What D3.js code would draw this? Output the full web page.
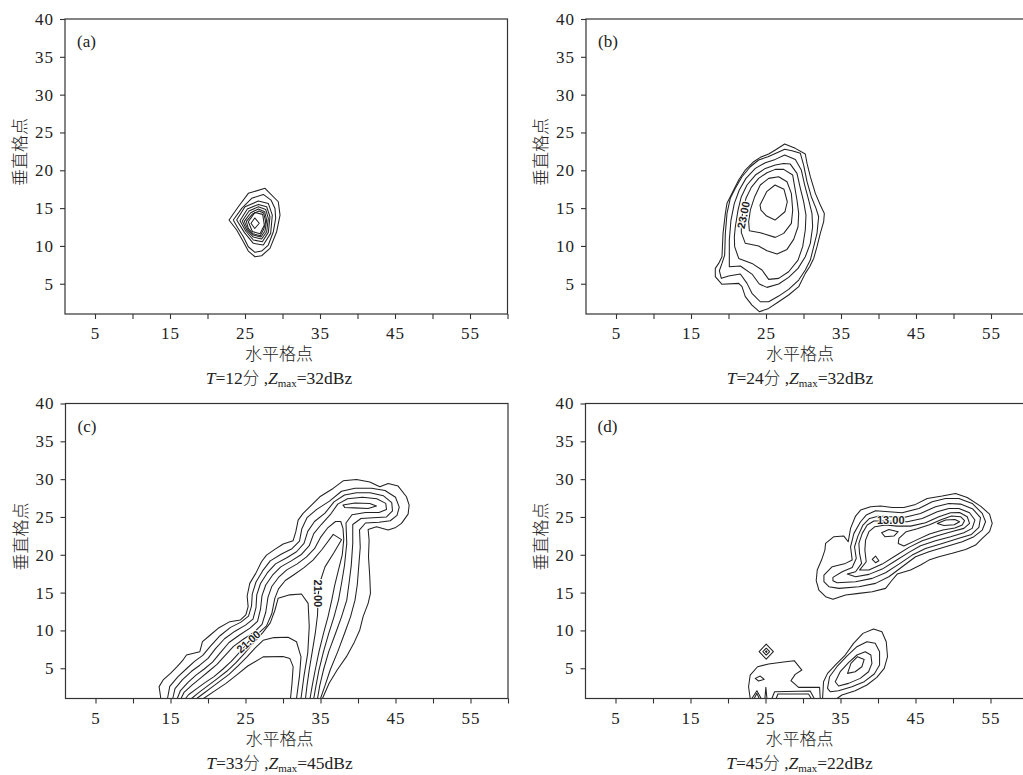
<!DOCTYPE html>
<meta charset="utf-8">
<style>
body { margin: 0; background: #fff; }
svg text { fill: #222; }
.axis .tick text { font-family: "Liberation Serif", "Times New Roman", serif; font-size: 17px; letter-spacing: 1px; fill: #222; }
.axis .tick line { stroke: #333; stroke-width: 1.1; }
.frame { fill: none; stroke: #333; stroke-width: 1.2; }
.cjk { font-family: "Noto Sans CJK SC", sans-serif; font-size: 17px; font-weight: 300; }
.cap { font-family: "Liberation Serif", "Times New Roman", serif; font-size: 17.5px; }
.tag { font-family: "Liberation Serif", "Times New Roman", serif; font-size: 17px; }
.clab { font-family: "Liberation Sans", Arial, sans-serif; font-weight: bold; font-size: 11px;
        paint-order: stroke; stroke: #fff; stroke-width: 2px; }
.contour { fill: none; stroke: #222; stroke-width: 1.05; stroke-linejoin: round; }
</style>
<body>
<div id="chart"></div>
<script src="https://cdnjs.cloudflare.com/ajax/libs/d3/7.8.5/d3.min.js"></script>
<script>

// axis values
var xTicks = [5, 10, 15, 20, 25, 30, 35, 40, 45, 50, 55, 60];
var xLabels = [5, 15, 25, 35, 45, 55];
var yTicks = [5, 10, 15, 20, 25, 30, 35, 40];

// panel captions
var panelTags = ["(a)", "(b)", "(c)", "(d)"];
var times = [12, 24, 33, 45];
var zmax = [32, 32, 45, 22];

// contours, points are [horizontal grid point, vertical grid point]
// (a) T=12 closed rings
var ringsA = [
  [[22.87,13.42],[24.11,15.18],[25.44,16.95],[27.67,17.61],[29.44,15.84],[29.67,14.08],[29.22,11.88],[28.33,9.67],[27.22,8.70],[26.33,8.57],[25.44,9.32],[24.78,10.56],[23.89,12.10]],
  [[23.44,13.42],[24.56,14.96],[25.89,16.29],[27.44,16.81],[28.47,16.06],[29.0,14.96],[29.09,13.64],[28.78,11.88],[28.11,10.12],[27.22,9.32],[26.33,9.15],[25.44,9.89],[24.78,11.22],[24.02,12.41]],
  [[23.89,13.42],[25.0,15.18],[26.78,15.93],[28.11,15.62],[28.64,14.08],[28.42,11.66],[27.44,10.12],[26.11,10.34],[24.91,11.79]],
  [[24.33,13.33],[25.31,14.87],[26.78,15.49],[27.89,15.18],[28.33,13.86],[28.11,11.79],[27.31,10.56],[26.11,10.78],[25.09,11.97]],
  [[24.64,13.29],[25.53,14.61],[26.78,15.18],[27.76,14.83],[28.11,13.64],[27.89,11.88],[27.22,10.91],[26.11,11.17],[25.22,12.1]],
  [[24.91,13.24],[25.76,14.39],[26.78,14.87],[27.62,14.52],[27.89,13.42],[27.67,11.97],[27.13,11.17],[26.11,11.44],[25.36,12.19]],
  [[25.18,13.24],[25.98,14.21],[26.87,14.61],[27.49,14.35],[27.76,13.2],[27.49,12.19],[27.04,11.35],[26.07,11.61],[25.44,12.32]],
  [[25.44,13.2],[26.33,14.43],[27.36,14.17],[27.58,12.76],[27.0,11.6],[25.98,11.9]],
  [[25.8,13.0],[26.3,13.7],[26.9,13.0],[26.3,12.3]]
];

// (b) T=24 closed rings
var ringsB = [
  [[27.49,23.47],[28.91,22.90],[30.24,22.15],[30.47,20.91],[30.91,19.15],[31.58,16.95],[32.24,15.41],[32.78,14.30],[32.69,13.20],[32.24,11.66],[31.8,9.9],[31.36,8.35],[30.82,7.25],[30.24,6.37],[29.36,4.61],[28.02,3.51],[26.69,2.62],[25.36,1.74],[24.11,1.30],[23.13,2.18],[22.24,3.29],[21.8,4.61],[21.36,5.05],[19.13,4.92],[18.24,5.93],[18.24,7.03],[18.69,7.69],[19.13,8.57],[19.27,11.66],[19.58,14.30],[19.8,15.63],[20.47,16.95],[21.36,18.71],[22.24,20.03],[23.36,21.13],[24.24,21.71],[25.36,22.15],[26.24,22.68]],
  [[19.04,5.71],[20.02,6.02],[21.58,6.28],[22.47,5.05],[23.13,3.73],[24.24,2.62],[25.36,2.62],[26.69,3.37],[28.02,4.25],[29.36,5.49],[30.24,6.81],[30.91,8.13],[31.36,9.9],[31.8,11.66],[32.02,13.86],[31.67,14.96],[31.04,16.51],[30.47,18.49],[30.02,20.69],[29.58,22.24],[28.47,22.59],[27.49,22.77],[26.47,22.33],[25.27,21.8],[24.02,21.36],[22.91,20.47],[21.8,19.15],[20.91,17.61],[20.24,16.29],[19.8,14.3],[19.58,11.66],[19.49,8.79],[19.13,7.69],[18.78,6.72]],
  [[20.11,7.25],[21.58,7.34],[23.13,6.28],[24.11,4.96],[25.13,4.52],[26.69,4.96],[28.02,5.84],[29.27,7.03],[30.24,8.57],[30.91,10.34],[31.22,12.54],[31.13,14.3],[30.69,16.07],[30.16,18.05],[29.71,20.03],[28.91,21.44],[27.49,22.02],[26.24,21.44],[24.91,21.0],[23.58,20.25],[22.33,18.93],[21.44,17.39],[20.78,15.63],[20.33,13.42],[20.11,10.78],[20.11,8.57]],
  [[20.82,9.9],[21.36,8.35],[23.13,7.69],[24.47,6.81],[25.36,5.58],[26.69,5.71],[28.02,6.59],[29.27,8.13],[29.89,9.9],[30.24,12.1],[30.33,14.08],[30.02,15.85],[29.58,17.61],[29.13,19.59],[28.24,20.82],[27.36,20.91],[26.24,20.69],[24.91,20.25],[23.58,19.37],[22.47,18.05],[21.71,16.51],[21.27,14.74],[20.91,12.54],[20.78,11.22]],
  [[21.71,11.75],[22.24,10.34],[24.02,9.98],[25.13,9.37],[26.47,8.93],[27.8,9.54],[28.69,10.87],[29.27,12.54],[29.36,14.3],[29.13,16.07],[28.82,17.83],[28.56,19.37],[27.36,20.12],[26.24,20.12],[25.13,19.68],[24.02,18.93],[23.04,17.74],[22.33,16.29],[21.89,14.52],[21.71,12.98]],
  [[22.78,12.01],[24.24,11.75],[26.24,11.13],[27.36,11.66],[28.38,12.98],[28.56,14.74],[28.38,16.95],[27.8,18.49],[26.69,19.15],[25.36,18.93],[24.24,18.05],[23.49,16.51],[22.91,14.74],[22.69,13.2]],
  [[24.2,15.4],[25.09,17.17],[26.2,18.05],[27.4,17.48],[27.84,15.84],[27.53,14.52],[26.2,13.42],[25.09,13.95],[24.33,14.74]]
];

// (c) T=33 lines that open onto the bottom edge, plus one closed ring
var linesC = [
  [[13.71,1],[13.48,2.57],[14.02,3.45],[15.0,4.33],[15.88,5.21],[16.6,6.0],[17.13,6.75],[18.91,7.19],[19.26,8.51],[20.15,9.26],[21.35,10.28],[22.91,11.16],[24.33,11.38],[25.04,12.04],[25.35,13.14],[25.22,14.55],[25.57,16.22],[26.37,17.54],[27.13,19.08],[27.8,19.96],[28.91,20.71],[30.02,21.42],[31.35,21.86],[31.71,23.05],[32.02,24.59],[32.68,25.47],[33.8,26.57],[34.91,27.67],[36.68,28.77],[38.02,29.78],[39.8,29.96],[41.57,29.61],[42.91,28.99],[44.02,29.43],[45.35,29.08],[46.46,27.67],[46.82,26.57],[46.68,25.38],[45.8,24.15],[45.04,23.62],[44.02,23.27],[42.46,23.71],[41.35,23.35],[41.48,21.94],[41.4,19.74],[41.57,17.1],[41.66,14.9],[41.35,13.58],[40.68,11.82],[40.24,10.06],[39.44,8.29],[38.46,6.53],[37.22,4.77],[36.15,3.01],[35.26,1]],
  [[14.6,1],[14.9,2.6],[16.0,3.9],[17.2,5.0],[18.2,5.9],[19.3,6.7],[20.3,7.9],[21.6,9.3],[23.0,10.4],[24.4,11.1],[25.4,11.9],[25.8,13.2],[25.9,14.8],[26.4,16.4],[27.3,17.9],[28.3,19.2],[29.8,20.1],[31.2,20.8],[32.2,21.8],[32.5,23.4],[33.2,24.9],[34.5,26.0],[36.2,27.1],[37.8,28.4],[39.6,28.8],[41.8,28.8],[43.6,28.5],[45.0,27.6],[45.5,26.3],[45.2,25.2],[44.3,24.5],[42.8,24.3],[41.0,24.2],[40.2,23.3],[40.3,21.0],[40.1,18.5],[39.9,16.0],[39.6,14.0],[39.0,11.8],[38.2,9.6],[37.3,7.2],[36.3,4.8],[35.6,2.7],[35.0,1]],
  [[15.3,1],[15.6,2.3],[16.6,3.5],[17.8,4.6],[18.9,5.4],[20.0,6.3],[21.0,7.6],[22.2,8.9],[23.6,9.9],[25.0,10.7],[26.0,11.5],[26.4,13.0],[26.5,14.7],[27.0,16.2],[27.9,17.6],[29.0,18.8],[30.5,19.6],[31.8,20.4],[32.8,21.5],[33.3,23.1],[34.2,24.4],[35.6,25.5],[36.8,27.0],[38.2,27.9],[39.8,28.2],[41.6,28.2],[43.4,27.8],[44.5,26.9],[44.6,25.8],[43.8,25.0],[42.0,24.9],[40.4,24.8],[39.3,24.0],[39.3,21.5],[39.1,18.6],[38.8,16.2],[38.5,14.0],[37.8,11.8],[37.0,9.6],[36.1,7.2],[35.4,4.8],[34.9,2.7],[34.6,1]],
  [[15.9,1],[16.3,2.0],[17.3,3.1],[18.4,4.1],[19.5,4.9],[20.6,5.8],[21.6,7.0],[22.8,8.4],[24.2,9.4],[25.6,10.3],[26.6,11.2],[27.0,12.8],[27.2,14.6],[27.7,16.0],[28.6,17.3],[29.7,18.4],[31.1,19.2],[32.4,20.0],[33.5,21.2],[34.1,22.8],[35.1,24.0],[36.3,25.3],[37.3,26.7],[38.6,27.4],[40.6,27.6],[42.5,27.4],[43.7,26.8],[43.8,26.0],[42.8,25.6],[41.0,25.6],[39.2,25.3],[38.4,24.2],[38.5,21.5],[38.2,18.6],[37.8,16.2],[37.4,14.0],[36.8,11.8],[36.1,9.6],[35.4,7.2],[34.8,4.8],[34.4,2.7],[34.1,1]],
  [[16.4,1],[16.8,1.8],[17.9,2.8],[19.0,3.7],[20.1,4.6],[21.2,5.5],[22.2,6.6],[23.4,7.9],[24.8,8.9],[26.2,9.8],[27.2,10.8],[27.7,12.4],[28.0,14.4],[28.5,15.8],[29.4,17.0],[30.5,18.0],[31.9,18.8],[33.1,19.7],[34.2,20.8],[35.0,22.3],[36.0,23.6],[37.0,24.4],[37.7,24.4],[38.0,23.5],[38.1,22.0],[37.9,20.0],[37.4,18.0],[36.9,16.0],[36.5,14.0],[36.0,11.8],[35.4,9.6],[34.8,7.2],[34.3,4.8],[33.9,2.7],[33.6,1]],
  [[17.0,1],[17.4,1.5],[18.5,2.3],[19.6,3.1],[20.8,3.9],[22.0,4.9],[23.1,5.9],[24.3,7.2],[25.4,8.5],[26.6,9.5],[27.8,10.6],[28.5,12.2],[28.9,14.2],[29.4,15.5],[30.3,16.6],[31.5,17.4],[32.8,18.3],[34.0,19.3],[35.2,20.7],[36.7,22.7],[37.8,22.0],[36.8,20.3],[35.6,18.4],[35.0,16.6],[34.7,14.8],[34.6,12.0],[34.3,9.6],[33.9,7.2],[33.5,4.8],[33.2,2.7],[33.0,1]],
  [[17.8,1],[18.8,1.8],[20.0,2.7],[21.2,3.6],[22.5,4.6],[23.7,5.7],[24.9,7.0],[26.1,8.4],[27.3,9.7],[28.3,11.0],[28.9,12.6],[29.35,14.24],[30.9,14.7],[32.46,14.81],[33.35,13.58],[33.5,10.5],[33.3,7.0],[32.8,4.0],[32.4,1]],
  [[18.5,1],[19.3,1.6],[20.4,2.4],[21.6,3.3],[22.8,4.2],[24.0,5.3],[25.2,6.5],[26.3,7.7],[27.35,8.7],[28.8,9.05],[30.68,9.09],[31.8,8.5],[32.4,6.5],[32.2,4.0],[31.8,1]],
  [[19.4,1],[20.9,2.0],[22.4,3.0],[23.8,4.1],[25.3,5.3],[27.35,6.5],[30.0,6.55],[30.91,6.3],[31.35,5.21],[31.2,3.0],[31.0,1]]
];
var ringsC = [
  [[38.0,26.57],[39.6,26.85],[41.57,26.79],[42.46,26.44],[41.35,26.13],[39.5,26.2],[38.24,26.26]]
];

// (d) T=45 closed rings and lines on the bottom edge
var ringsD = [
  [[33.01,21.5],[34.12,22.39],[35.45,22.47],[36.03,21.72],[36.34,23.49],[37.01,25.12],[37.68,25.91],[39.01,26.35],[40.34,26.44],[41.9,26.26],[43.45,26.26],[45.01,26.66],[46.56,27.45],[48.56,27.76],[50.34,28.11],[51.9,27.58],[53.67,26.44],[54.87,25.38],[55.23,24.15],[54.87,23.05],[53.9,22.17],[53.01,21.29],[51.68,20.71],[49.9,20.19],[48.12,19.74],[46.79,19.3],[45.68,18.64],[44.34,17.98],[42.56,17.45],[41.81,16.57],[41.01,15.56],[39.23,15.12],[37.45,14.9],[35.68,14.68],[33.99,14.11],[33.01,14.46],[32.12,15.34],[31.76,16.57],[31.9,17.98],[32.47,19.3],[32.92,20.62]],
  [[32.79,17.32],[33.9,18.42],[35.67,18.86],[36.56,19.3],[36.34,21.06],[36.79,22.83],[37.67,24.37],[38.43,25.25],[39.67,25.82],[41.45,25.69],[43.23,25.56],[45.45,26.13],[47.23,27.01],[49.01,27.45],[50.79,27.45],[52.56,26.79],[53.9,25.47],[54.34,24.37],[53.9,23.27],[52.79,22.39],[51.23,21.72],[49.01,21.06],[46.79,20.4],[45.01,19.74],[43.23,18.42],[41.45,17.1],[39.67,16.22],[37.45,15.78],[34.79,15.56],[33.45,15.78],[32.79,16.44]],
  [[33.99,17.01],[35.23,17.76],[36.56,18.33],[37.1,19.52],[36.87,21.06],[37.32,22.47],[37.99,23.93],[38.87,24.81],[40.12,25.12],[41.67,25.03],[43.45,24.94],[45.67,25.47],[47.67,26.35],[49.45,26.79],[51.01,26.7],[52.65,26.04],[53.67,24.9],[53.45,23.62],[52.47,22.69],[50.79,22.17],[48.56,21.5],[46.34,20.84],[44.56,19.96],[42.79,18.77],[41.01,17.63],[39.23,16.88],[37.01,16.44],[34.56,16.31],[33.99,16.57]],
  [[35.9,17.45],[37.01,17.76],[37.81,18.86],[37.54,20.18],[37.45,21.5],[37.9,22.83],[38.56,23.93],[39.45,24.46],[40.79,24.5],[42.34,24.37],[43.9,24.37],[45.9,24.81],[47.9,25.69],[49.45,26.13],[50.79,26.13],[52.21,25.56],[52.92,24.59],[52.56,23.49],[51.45,22.91],[49.68,22.39],[47.67,21.86],[45.67,21.2],[44.12,20.32],[42.34,19.21],[40.56,18.11],[38.79,17.41],[37.01,17.1]],
  [[37.54,17.98],[38.43,19.08],[38.25,20.62],[38.34,21.94],[38.79,23.05],[39.59,23.71],[41.01,23.93],[42.56,23.79],[44.34,23.79],[46.34,24.23],[48.12,25.03],[49.68,25.56],[50.88,25.6],[51.9,25.03],[52.21,24.15],[51.45,23.49],[49.9,23.09],[47.9,22.52],[45.9,21.86],[44.12,20.98],[42.34,19.88],[40.56,18.77],[38.79,17.98]],
  [[42.79,22.17],[43.76,23.05],[45.23,23.44],[46.87,23.97],[48.48,24.67],[49.81,25.12],[51.01,25.03],[51.54,24.5],[51.23,23.93],[50.25,23.53],[48.65,23.27],[46.87,22.74],[45.1,21.94],[43.45,21.15],[42.7,21.5]],
  [[47.9,24.15],[49.01,24.59],[50.25,24.67],[50.88,24.37],[50.16,23.97],[48.79,23.88]],
  [[40.48,22.91],[41.45,23.35],[42.7,23.05],[42.12,22.47],[40.92,22.39]],
  [[39.23,19.39],[39.67,19.83],[40.12,19.21],[39.67,18.95]],
  [[33.27,2.34],[33.54,3.88],[34.52,5.2],[35.85,6.61],[37.19,7.85],[38.52,8.51],[39.63,8.29],[40.21,7.19],[40.21,5.42],[39.5,4.24],[38.16,3.22],[36.52,2.56],[34.74,2.03],[33.63,1.9]],
  [[34.3,3.22],[34.96,4.54],[36.07,5.73],[37.19,6.75],[38.3,7.19],[39.05,6.75],[39.19,5.65],[38.74,4.54],[37.63,3.66],[36.07,3.0],[34.74,2.65]],
  [[35.94,4.32],[36.39,5.65],[37.27,6.53],[38.16,6.17],[37.85,5.2],[36.96,4.54]],
  [[23.63,3.66],[24.3,3.97],[24.83,3.53],[24.07,3.31]],
  [[25.1,8.2],[26.05,7.2],[25.1,6.2],[24.15,7.2]],
  [[25.1,7.65],[25.55,7.2],[25.1,6.75],[24.65,7.2]],
  [[25.1,7.3],[25.2,7.2],[25.1,7.1],[25.0,7.2]]
];
var linesD = [
  [[32.61,1],[32.74,3.22],[33.27,4.32],[34.3,5.42],[35.63,6.75],[36.74,8.29],[37.99,9.61],[39.41,10.18],[40.52,9.83],[41.1,8.51],[41.27,6.53],[40.83,4.98],[39.85,3.8],[38.52,2.78],[36.96,2.03],[35.19,1.46],[34.52,1]],
  [[22.96,1],[22.74,2.56],[22.96,4.1],[23.94,5.2],[25.41,5.56],[27.41,5.82],[28.83,6.0],[29.85,4.76],[28.96,4.19],[28.39,3.35],[29.41,2.47],[32.21,2.47],[32.3,1]],
  [[23.19,1],[23.85,2.03],[24.43,1]],
  [[23.5,1],[23.85,1.68],[24.16,1]],
  [[24.92,1],[25.05,2.47],[25.19,1]],
  [[25.85,1],[26.21,1.9],[30.96,1.99],[31.5,1]],
  [[26.43,1],[26.65,1.59],[30.74,1.59],[31.1,1]]
];

// contour labels: panel index, text, position, angle
var contourLabels = [
  {panel: 1, text: "23.00", at: [22.0, 14.1], angle: -78},
  {panel: 2, text: "21.00", at: [25.4, 8.5], angle: -42},
  {panel: 2, text: "21.00", at: [34.7, 14.9], angle: 90},
  {panel: 3, text: "13.00", at: [41.7, 24.55], angle: 0}
];

var panelRings = [ringsA, ringsB, ringsC, ringsD];
var panelLines = [[], [], linesC, linesD];

// layout
var width = 1023, height = 775;
var W = 442.5, H = 295;
var origins = [[65, 19], [586, 19], [65.5, 403.5], [585.5, 403.5]];

var svg = d3.select("#chart").append("svg")
    .attr("width", width).attr("height", height);

var x = d3.scaleLinear().domain([1, 60]).range([0, W]);
var y = d3.scaleLinear().domain([1, 40]).range([H, 0]);

var line = d3.line().x(function(d) { return x(d[0]); }).y(function(d) { return y(d[1]); });
var ring = d3.line().x(function(d) { return x(d[0]); }).y(function(d) { return y(d[1]); })
    .curve(d3.curveLinearClosed);

origins.forEach(function(o, i) {
  var g = svg.append("g").attr("transform", "translate(" + o[0] + "," + o[1] + ")");

  g.append("clipPath").attr("id", "clip" + i)
    .append("rect").attr("width", W).attr("height", H);

  var plot = g.append("g").attr("clip-path", "url(#clip" + i + ")");

  plot.selectAll("path.ring")
    .data(panelRings[i])
    .enter().append("path")
    .attr("class", "contour ring")
    .attr("d", ring);

  plot.selectAll("path.open")
    .data(panelLines[i])
    .enter().append("path")
    .attr("class", "contour open")
    .attr("d", line);

  contourLabels.filter(function(l) { return l.panel === i; }).forEach(function(l) {
    plot.append("text")
      .attr("class", "clab")
      .attr("text-anchor", "middle")
      .attr("dy", "0.35em")
      .attr("transform", "translate(" + x(l.at[0]) + "," + y(l.at[1]) + ") rotate(" + l.angle + ")")
      .text(l.text);
  });

  // axes
  g.append("g").attr("class", "axis")
    .attr("transform", "translate(0," + H + ")")
    .call(d3.axisBottom(x).tickValues(xTicks).tickSize(5).tickPadding(8)
      .tickFormat(function(d) { return xLabels.indexOf(d) >= 0 ? d : ""; }))
    .call(function(a) { a.select(".domain").remove(); });

  g.append("g").attr("class", "axis")
    .call(d3.axisLeft(y).tickValues(yTicks).tickSize(5).tickPadding(6))
    .call(function(a) { a.select(".domain").remove(); });

  g.append("rect").attr("class", "frame").attr("width", W).attr("height", H);

  // texts
  g.append("text").attr("class", "tag").attr("x", 12).attr("y", 28).text(panelTags[i]);

  g.append("text").attr("class", "cjk")
    .attr("text-anchor", "middle")
    .attr("x", 214).attr("y", H + 46)
    .text("水平格点");

  g.append("text").attr("class", "cjk")
    .attr("text-anchor", "middle")
    .attr("transform", "translate(-39," + 133 + ") rotate(-90)")
    .text("垂直格点");

  var cap = g.append("text").attr("class", "cap")
    .attr("text-anchor", "middle")
    .attr("x", 214).attr("y", H + 70);
  cap.append("tspan").attr("font-style", "italic").text("T");
  cap.append("tspan").text("=" + times[i]);
  cap.append("tspan").attr("class", "cjk").style("font-size", "16.5px").text("分");
  cap.append("tspan").text(" ,");
  cap.append("tspan").attr("font-style", "italic").text("Z");
  cap.append("tspan").attr("font-size", 11).attr("dy", 3).text("max");
  cap.append("tspan").attr("dy", -3).text("=" + zmax[i] + "dBz");
});

</script>
